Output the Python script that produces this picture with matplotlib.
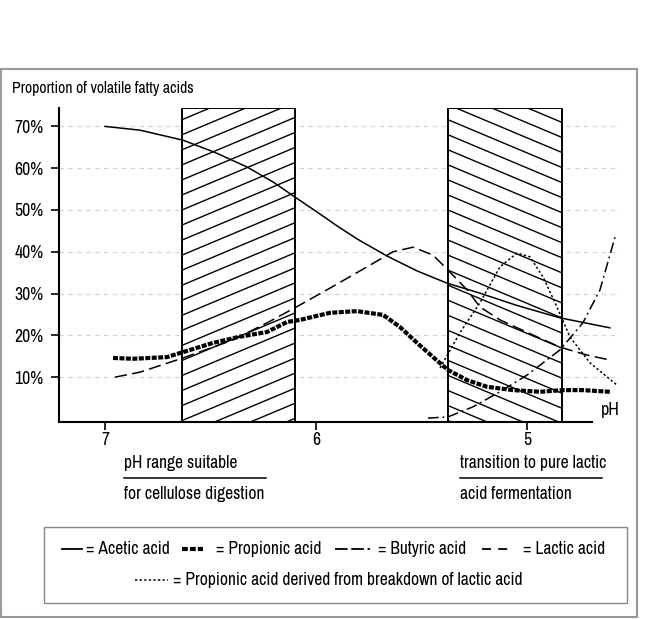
import matplotlib.pyplot as plt
from matplotlib.patches import Rectangle
from matplotlib.lines import Line2D
import numpy as np

plt.rcParams['font.family'] = ['Archivo Narrow', 'DejaVu Sans']

# values: pH and % of volatile fatty acids
acetic_ph = [7.0, 6.834, 6.63, 6.48, 6.327, 6.2, 6.1, 6.0, 5.9, 5.806, 5.664, 5.52, 5.379, 5.223, 5.05, 4.844, 4.607]
acetic_pct = [70.0, 69.1, 66.7, 63.8, 60.3, 56.6, 53.1, 49.7, 46.2, 43.1, 39.0, 35.4, 32.5, 30.1, 27.2, 24.2, 21.8]

propionic_ph = [6.962, 6.867, 6.706, 6.63, 6.488, 6.36, 6.232, 6.137, 6.076, 5.934, 5.806, 5.682,
                5.602, 5.521, 5.445, 5.374, 5.284, 5.19, 5.066, 4.938, 4.829, 4.735, 4.607]
propionic_pct = [14.6, 14.4, 14.8, 16.0, 18.2, 19.7, 20.8, 23.2, 23.7, 25.4, 25.8, 24.9,
                 22.0, 18.2, 14.8, 11.7, 9.3, 7.7, 6.9, 6.5, 6.9, 6.9, 6.5]

butyric_ph = [6.953, 6.834, 6.63, 6.393, 6.232, 6.1, 5.934, 5.758, 5.635, 5.54, 5.445, 5.374,
              5.284, 5.223, 5.128, 4.972, 4.844, 4.716, 4.607]
butyric_pct = [10.0, 11.2, 14.6, 18.9, 23.0, 26.6, 31.3, 36.4, 40.0, 41.1, 39.2, 35.6,
               30.9, 26.8, 23.7, 20.1, 17.2, 15.3, 14.1]

lactic_ph = [5.469, 5.374, 5.256, 5.128, 5.0, 4.844, 4.735, 4.654, 4.583]
lactic_pct = [0.2, 0.5, 2.9, 6.5, 10.5, 16.5, 23.0, 30.9, 43.5]

prop_lac_ph = [5.412, 5.318, 5.223, 5.128, 5.047, 4.986, 4.924, 4.858, 4.796, 4.701, 4.573]
prop_lac_pct = [12.2, 20.6, 27.8, 36.4, 39.7, 38.8, 34.0, 26.8, 19.6, 13.4, 8.1]

# hatched pH ranges
ranges = [(6.635, 6.10, '/'), (5.374, 4.834, '\\')]

y_ticks = [10, 20, 30, 40, 50, 60, 70]
x_ticks = [7, 6, 5]

fig = plt.figure(figsize=(6.46, 6.19), dpi=100)
ax = fig.add_axes([0.0913, 0.3183, 0.8685, 0.5072])
ax.set_xlim(7.218, 4.559)
ax.set_ylim(-0.72, 74.4)

ax.set_axisbelow(True)
ax.yaxis.grid(True, color='#d4d4d4', lw=0.8, ls=(0, (4, 4)))

# boxes with slanted hatching
k = 21.2      # slope in % per pH
step = 3.6    # spacing in %
for x0, x1, kind in ranges:
    rect = Rectangle((x0, -0.72), x1 - x0, 75.12, facecolor='white', edgecolor='black', lw=1.4, zorder=2)
    ax.add_patch(rect)
    xs = np.array([x0, x1])
    for c in np.arange(-40, 120, step):
        if kind == '/':
            ys = c + k * (x0 - xs)
        else:
            ys = c - k * (x0 - xs)
        ln, = ax.plot(xs, ys, color='black', lw=1.0, zorder=2.5)
        ln.set_clip_path(rect)

ax.plot(acetic_ph, acetic_pct, color='black', lw=1.1, zorder=4)
ax.plot(propionic_ph, propionic_pct, color='black', lw=3.0, dashes=(1.2, 0.35), zorder=4)
ax.plot(butyric_ph, butyric_pct, color='black', lw=1.1, dashes=(8, 3.5), zorder=4)
ax.plot(lactic_ph, lactic_pct, color='black', lw=1.1, dashes=(7, 2.5, 1.2, 2.5), zorder=4)
ax.plot(prop_lac_ph, prop_lac_pct, color='black', lw=1.1, dashes=(1.5, 1.5), zorder=4)

ax.set_yticks(y_ticks)
ax.set_yticklabels(['%d%%' % v for v in y_ticks])
ax.set_xticks(x_ticks)
ax.set_xticklabels([str(v) for v in x_ticks])
ax.tick_params(axis='both', direction='out', length=6, width=1.2, labelsize=12.8, color='black')
ax.tick_params(axis='y', pad=5)
ax.tick_params(axis='x', pad=1)

for s in ['top', 'right']:
    ax.spines[s].set_visible(False)
for s in ['left', 'bottom']:
    ax.spines[s].set_linewidth(1.5)
ax.spines['bottom'].set_bounds(7.218, 4.692)
ax.spines['bottom'].set_zorder(5)

ax.text(4.605, 0.2, 'pH', fontsize=13, ha='center', va='bottom')


def fx(px):
    return px / 646


def fy(py):
    return 1 - py / 619


fs = 12.6
fig.text(fx(12), fy(88), 'Proportion of volatile fatty acids', fontsize=11.3, va='center')

# notes below the axis
fig.text(fx(124), fy(463), 'pH range suitable', fontsize=fs, va='center')
fig.add_artist(Line2D([fx(124), fx(266)], [fy(478), fy(478)], color='black', lw=1.1))
fig.text(fx(124), fy(494), 'for cellulose digestion', fontsize=fs, va='center')
fig.text(fx(460), fy(463), 'transition to pure lactic', fontsize=fs, va='center')
fig.add_artist(Line2D([fx(460), fx(602)], [fy(478), fy(478)], color='black', lw=1.1))
fig.text(fx(460), fy(494), 'acid fermentation', fontsize=fs, va='center')

# legend box drawn by hand
fig.add_artist(Rectangle((fx(44), fy(603)), fx(627) - fx(44), fy(527) - fy(603),
                         facecolor='none', edgecolor='#888888', lw=1.0))
ly1, ly2 = fy(549), fy(580)
fig.add_artist(Line2D([fx(62), fx(82)], [ly1, ly1], color='black', lw=1.3))
fig.text(fx(86), ly1, '= Acetic acid', fontsize=fs, va='center')
fig.add_artist(Line2D([fx(182), fx(203)], [ly1, ly1], color='black', lw=3.0, dashes=(1.4, 0.5)))
fig.text(fx(216), ly1, '= Propionic acid', fontsize=fs, va='center')
fig.add_artist(Line2D([fx(335), fx(370)], [ly1, ly1], color='black', lw=1.3, dashes=(7, 2)))
fig.text(fx(378), ly1, '= Butyric acid', fontsize=fs, va='center')
fig.add_artist(Line2D([fx(482), fx(513)], [ly1, ly1], color='black', lw=1.3, dashes=(5, 4)))
fig.text(fx(523), ly1, '= Lactic acid', fontsize=fs, va='center')
fig.add_artist(Line2D([fx(135), fx(168)], [ly2, ly2], color='black', lw=1.1, dashes=(1.5, 1.5)))
fig.text(fx(173), ly2, '= Propionic acid derived from breakdown of lactic acid', fontsize=fs, va='center')

# outer frame
fig.add_artist(Rectangle((fx(1), fy(617)), fx(637) - fx(1), fy(69) - fy(617),
                         facecolor='none', edgecolor='#999999', lw=1.5))

fig.savefig('out.png', dpi=100)
